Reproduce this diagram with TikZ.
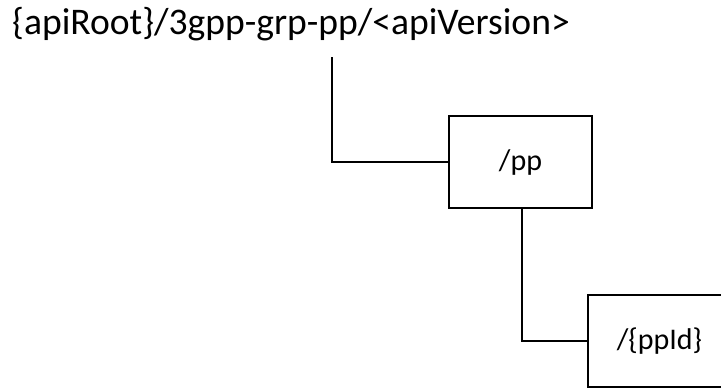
\documentclass[tikz,border=0pt]{standalone}
\usepackage{fontspec}
\setmainfont{Carlito}
\begin{document}
\begin{tikzpicture}[x=1pt,y=-1pt,
  conn/.style={line width=1.6pt},
  res/.style={draw,line width=1.6pt,minimum width=143pt,minimum height=92pt,inner sep=0pt,font=\fontsize{30}{36}\selectfont}]
\useasboundingbox (0,0) rectangle (721,389);
\node[anchor=base west,inner sep=0pt,font=\fontsize{37.6}{44}\selectfont] (root) at (12,34) {\{apiRoot\}/3gpp-grp-pp/<apiVersion>};
\coordinate (rootdrop) at (332,57);
\node[res] (pp) at (520.5,162) {/pp};
\node[res] (ppid) at (659.5,341) {/\{ppId\}};
\draw[conn] (rootdrop) |- (pp.west);
\draw[conn] (pp.south -| 522,0) |- (ppid.west);
\end{tikzpicture}
\end{document}
